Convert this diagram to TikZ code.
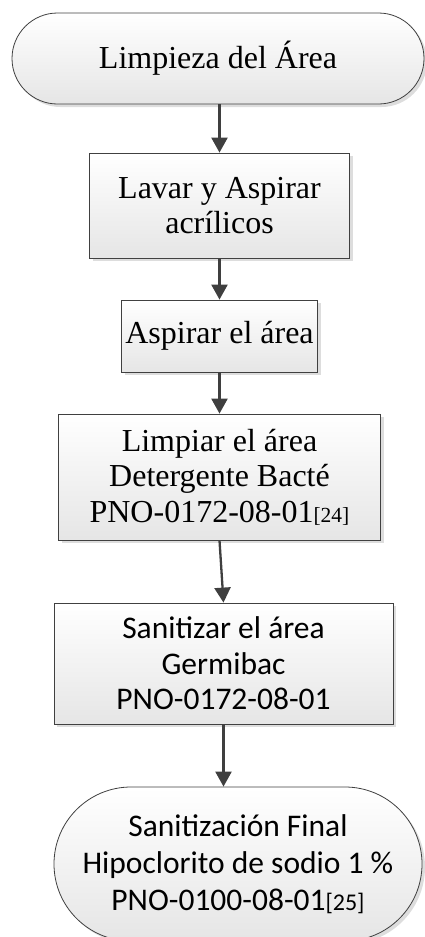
\documentclass[tikz,border=0pt]{standalone}
\usepackage{fontspec}
\newfontfamily\tnrfont{Liberation Serif}
\newfontfamily\calfont{Carlito}
\usetikzlibrary{shapes.misc,shadows,arrows.meta}
\definecolor{edge}{HTML}{404040}
\definecolor{arr}{HTML}{3F3F3F}
\tikzset{
  base/.style={draw=edge, line width=0.8pt, inner sep=0pt, align=center,
    top color=white, bottom color=black!10,
    drop shadow={shadow xshift=3pt, shadow yshift=-3pt, fill=black!22, opacity=0.6}},
  serifbox/.style={base, rectangle, font={\tnrfont\fontsize{32}{35.5}\selectfont}},
  sansbox/.style={base, rectangle, font={\calfont\fontsize{31.5}{35.5}\selectfont}},
  termser/.style={base, rounded rectangle, rounded rectangle arc length=180,
    font={\tnrfont\fontsize{32}{35.5}\selectfont}},
  termsans/.style={base, rounded rectangle, rounded rectangle arc length=180,
    font={\calfont\fontsize{31.5}{37}\selectfont}},
  flow/.style={draw=arr, line width=2.3pt, -{Triangle[length=15pt,width=16pt]}}
}
\begin{document}
\begin{tikzpicture}[x=1pt,y=-1pt]
\useasboundingbox (0,0) rectangle (425,937);
\clip (0,0) rectangle (425,937);
\node[termser, minimum width=412pt, minimum height=91pt] (start) at (218,58.5) {Limpieza del Área};
\node[serifbox, minimum width=260pt, minimum height=105pt] (b2) at (219.5,205.5) {Lavar y Aspirar\\acrílicos};
\node[serifbox, minimum width=196pt, minimum height=72pt] (b3) at (219.5,336) {Aspirar el área};
\node[serifbox, minimum width=322pt, minimum height=126pt] (b4) at (219.5,477) {Limpiar el área\\Detergente Bacté\\\tnrfont PNO-0172-08-01{\tnrfont\fontsize{21.5}{24}\selectfont[24]}};
\node[sansbox, minimum width=339pt, minimum height=121pt] (b5) at (223.5,663.5) {Sanitizar el área\\Germibac\\PNO-0172-08-01};
\node[termsans, minimum width=368pt, minimum height=154pt] (end) at (238,864) {Sanitización Final\\Hipoclorito de sodio 1 \%\\PNO-0100-08-01{\calfont\fontsize{24}{26}\selectfont[25]}};
\draw[flow] (start.south -| b2.north) -- (b2.north);
\draw[flow] (b2.south) -- (b3.north);
\draw[flow] (b3.south) -- (b4.north);
\draw[flow] (b4.south) -- (b5.north);
\draw[flow] (b5.south) -- (b5.south |- end.north);
\end{tikzpicture}
\end{document}
